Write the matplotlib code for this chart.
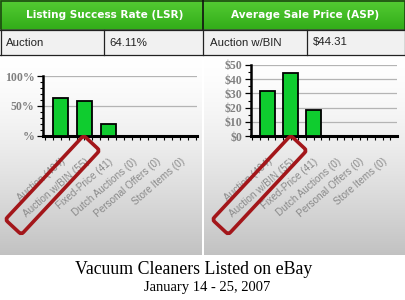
import numpy as np
import matplotlib
matplotlib.use("Agg")
import matplotlib.pyplot as plt
from matplotlib.patches import Rectangle, FancyBboxPatch
from matplotlib.transforms import Affine2D, ScaledTranslation, blended_transform_factory
from matplotlib.ticker import MultipleLocator, FixedLocator

categories = ["Auction (404)", "Auction w/BIN (55)", "Fixed-Price (41)",
              "Dutch Auctions (0)", "Personal Offers (0)", "Store Items (0)"]
lsr_values = [64.11, 58.0, 19.5, 0, 0, 0]
asp_values = [31.7, 44.31, 18.1, 0, 0, 0]
lsr_ticks = [0, 50, 100]
lsr_ticklabels = ["%", "50%", "100%"]
asp_ticks = [0, 10, 20, 30, 40, 50]
asp_ticklabels = ["$0", "$10", "$20", "$30", "$40", "$50"]
headers = ["Listing Success Rate (LSR)", "Average Sale Price (ASP)"]
row_labels = ["Auction", "Auction w/BIN"]
row_values = ["64.11%", "$44.31"]
title1 = "Vacuum Cleaners Listed on eBay"
title2 = "January 14 - 25, 2007"

W, H = 405, 300
fig = plt.figure(figsize=(W / 100, H / 100), dpi=100)


def rect(x, y, w, h):
    # pixel box (y down) -> figure fraction
    return [x / W, 1 - (y + h) / H, w / W, h / H]


bg = fig.add_axes([0, 0, 1, 1], zorder=0)
bg.set_xlim(0, W)
bg.set_ylim(H, 0)
bg.axis("off")

# gray gradient behind the charts
t = np.linspace(0, 1, 200) ** 1.5
grad = (1 - t * 0.24)[:, None, None] * np.ones((1, 1, 3))
for x0, x1 in [(0, 202), (204, 405)]:
    bg.imshow(grad, extent=(x0, x1, 255, 55), aspect="auto", zorder=0)

# green header
g_top = np.array([0.33, 0.80, 0.20])
g_bot = np.array([0.20, 0.68, 0.10])
hg = np.linspace(0, 1, 30)[:, None, None] * (g_bot - g_top) + g_top
bg.imshow(hg * np.ones((1, 2, 1)), extent=(0, W, 29, 0), aspect="auto", zorder=1)
bg.add_patch(Rectangle((0.5, 0.5), W - 1, 29, fill=False, ec="#1c4a10", lw=1.2, zorder=2))
bg.plot([202.5, 202.5], [0, 29], color="#111111", lw=1.2, zorder=3)

# data row
bg.add_patch(Rectangle((0, 29.5), W, 25, fc="#f1f1f1", ec="none", zorder=1))
bg.plot([0, W], [29.5, 29.5], color="#222222", lw=0.9, zorder=3)
bg.plot([0, W], [54.5, 54.5], color="#222222", lw=0.9, zorder=3)
for xv in [0.5, 103.5, 202.5, 306.5, W - 0.5]:
    bg.plot([xv, xv], [29.5, 54.5], color="#222222", lw=0.9, zorder=3)

for i, (x0, xc) in enumerate([(0, 105), (204, 305)]):
    bg.text(xc, 15, headers[i], color="white", fontsize=7.6, fontweight="bold",
            ha="center", va="center", family="DejaVu Sans", zorder=4)
    bg.text(x0 + 6, 42.5, row_labels[i], fontsize=8.2, ha="left", va="center",
            family="Liberation Sans", color="#222222", zorder=4)
    bg.text(x0 + 109, 42.5, row_values[i], fontsize=8.2, ha="left", va="center",
            family="Liberation Sans", color="#222222", zorder=4)

bg.text(194, 269, title1, fontsize=12.8, family="Liberation Serif",
        ha="center", va="center")
bg.text(207, 288, title2, fontsize=10.5, family="Liberation Serif",
        ha="center", va="center")


def bar_panel(box, values, xlim, ylim, ticks, ticklabels, minor):
    ax = fig.add_axes(rect(*box), zorder=2)
    ax.patch.set_alpha(0)
    x = np.arange(len(values))
    ax.bar(x, values, width=0.66, color="#0fcc2f", edgecolor="black", lw=1.3, zorder=3)
    ax.set_xlim(*xlim)
    ax.set_ylim(*ylim)
    for s in ["top", "right"]:
        ax.spines[s].set_visible(False)
    ax.spines["bottom"].set_linewidth(2.2)
    ax.spines["left"].set_linewidth(1.8)
    ax.set_yticks(ticks)
    ax.set_yticklabels(ticklabels, family="Liberation Serif", fontweight="bold",
                       fontsize=8.5, color="#808080")
    ax.yaxis.set_minor_locator(MultipleLocator(minor))
    for tv in ticks[1:]:
        ax.axhline(tv, color="#b4b4b4", lw=0.9, zorder=1)
    ax.set_xticks(x)
    ax.set_xticklabels([])
    ax.xaxis.set_minor_locator(FixedLocator(np.arange(-2, 7, 1 / 3)))
    ax.tick_params(axis="x", which="both", length=3, width=0.8)
    ax.tick_params(axis="y", which="major", length=4, width=0.9, pad=2)
    ax.tick_params(axis="y", which="minor", length=2, width=0.8)
    # category labels: text end sits 3px right / 24px below each tick
    tr = blended_transform_factory(ax.transData, ax.transAxes) + \
        ScaledTranslation(3 / 100, -24 / 100, fig.dpi_scale_trans)
    for xi, cat in zip(x, categories):
        ax.text(xi, 0, cat, transform=tr, rotation=41, ha="right", va="center",
                rotation_mode="anchor", fontsize=7.2, family="Liberation Sans",
                color="#8a8a8a", clip_on=False)
    return ax


bar_panel((43, 76, 154, 60), lsr_values, (-0.73, 5.69), (0, 100),
          lsr_ticks, lsr_ticklabels, 10)
bar_panel((251, 65, 146, 71), asp_values, (-0.72, 5.63), (0, 50),
          asp_ticks, asp_ticklabels, 5)

# red highlight boxes around "Auction w/BIN"
fg = fig.add_axes([0, 0, 1, 1], zorder=5)
fg.set_xlim(0, W)
fg.set_ylim(H, 0)
fg.axis("off")
bw, bh = 115, 22
for cx, cy in [(52.5, 185), (259.5, 185)]:
    box = FancyBboxPatch((cx - bw / 2, cy - bh / 2), bw, bh,
                         boxstyle="round,pad=0,rounding_size=3",
                         fill=False, ec="#a3161a", lw=2.6)
    box.set_transform(Affine2D().rotate_deg_around(cx, cy, -47) + fg.transData)
    fg.add_patch(box)

fig.savefig("out.png", dpi=100)
